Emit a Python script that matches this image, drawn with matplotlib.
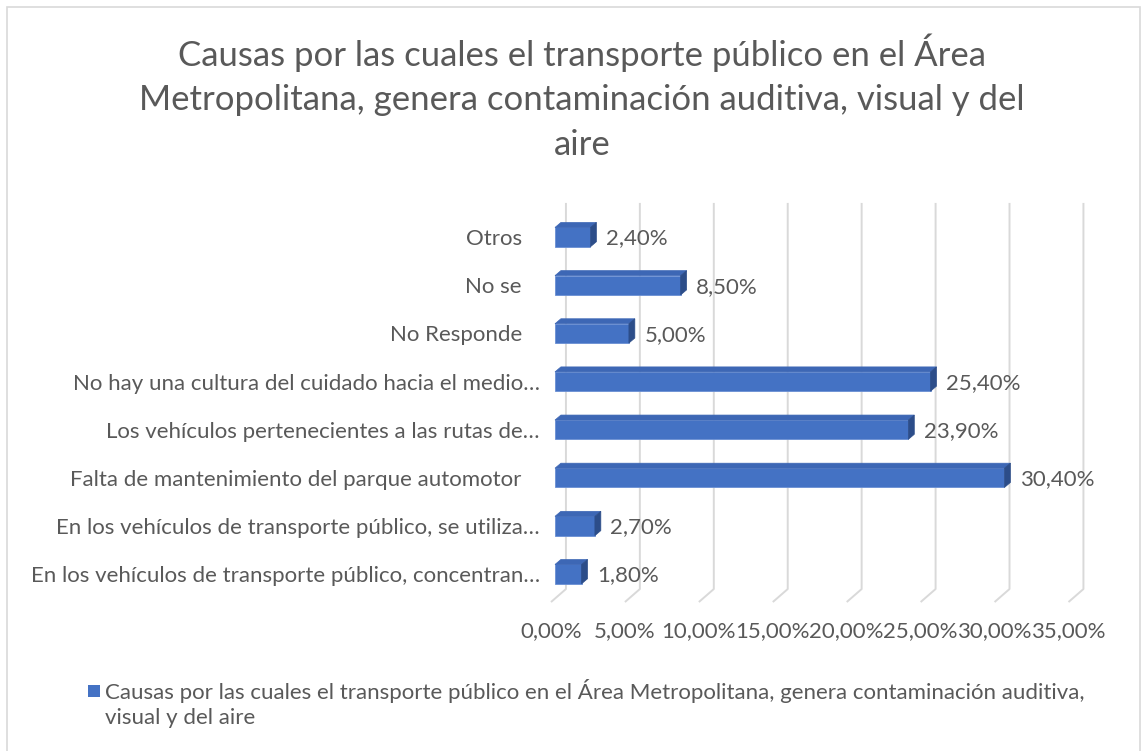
import numpy as np
import matplotlib.pyplot as plt
from matplotlib.patches import Polygon, Rectangle

plt.rcParams['font.family'] = ['Lato', 'DejaVu Sans']

W, H = 1147, 751

titulo = ("Causas por las cuales el transporte público en el Área\n"
          "Metropolitana, genera contaminación auditiva, visual y del\n"
          "aire")
categorias = [
    "En los vehículos de transporte público, concentran…",
    "En los vehículos de transporte público, se utiliza…",
    "Falta de mantenimiento del parque automotor",
    "Los vehículos pertenecientes a las rutas de…",
    "No hay una cultura del cuidado hacia el medio…",
    "No Responde",
    "No se",
    "Otros",
]
porcentajes = [1.8, 2.7, 30.4, 23.9, 25.4, 5.0, 8.5, 2.4]
ticks = [0, 5, 10, 15, 20, 25, 30, 35]
tick_labels = ["0,00%", "5,00%", "10,00%", "15,00%", "20,00%", "25,00%", "30,00%", "35,00%"]
serie = ("Causas por las cuales el transporte público en el Área Metropolitana, "
         "genera contaminación auditiva,", "visual y del aire")

gris = '#595959'
azul = '#4472C4'
azul_sup = '#3D67B5'
azul_lado = '#2C4D89'
rejilla = '#D9D9D9'
fs = 16


def fx(x):
    return x / W


def fy(y):
    return 1 - y / H


fig = plt.figure(figsize=(W / 100, H / 100), dpi=100)
fig.patches.append(Rectangle((fx(7), fy(760)), fx(1140) - fx(7), fy(7) - fy(760),
                             transform=fig.transFigure, fill=False,
                             edgecolor=rejilla, lw=1.2))

ax = fig.add_axes([fx(551), fy(603), (35 * 14.9) / W, (603 - 201) / H])
ax.set_xlim(0, 35)
ax.set_ylim(-0.6, 7.75)
for s in ax.spines.values():
    s.set_visible(False)

# profundidad del efecto 3D (en unidades de datos)
dx, dy = 0.4, 0.104
fondo_x = 0.74
piso_x = -0.27

# rejilla en la pared del fondo y su quiebre en el piso
for v in ticks:
    ax.plot([v + fondo_x, v + fondo_x, v + piso_x], [7.71, -0.31, -0.58],
            color=rejilla, lw=1.4, zorder=1, clip_on=False, solid_capstyle='butt')

y = np.arange(len(categorias))
h = 0.4
ax.barh(y, porcentajes, height=h, color=azul, edgecolor='#6A8FD3', lw=0.6, zorder=3)
for yi, v in zip(y, porcentajes):
    arriba = yi + h / 2
    abajo = yi - h / 2
    ax.add_patch(Polygon([(0, arriba), (v, arriba), (v + dx, arriba + dy), (dx, arriba + dy)],
                         closed=True, facecolor=azul_sup, edgecolor=azul_sup, lw=0.5,
                         zorder=3, clip_on=False))
    ax.add_patch(Polygon([(v, abajo), (v, arriba), (v + dx, arriba + dy), (v + dx, abajo + dy)],
                         closed=True, facecolor=azul_lado, edgecolor=azul_lado, lw=0.5,
                         zorder=3, clip_on=False))
    ax.text(v + 1.05, yi - 0.03, f"{v:.2f}%".replace('.', ','), ha='left', va='center',
            fontsize=fs, color=gris, clip_on=False)

ax.set_yticks(y, categorias)
ax.set_xticks(np.array(ticks) + piso_x, tick_labels)
ax.tick_params(axis='y', length=0, pad=8, labelsize=fs, labelcolor=gris)
ax.tick_params(axis='x', length=0, pad=13, labelsize=fs, labelcolor=gris)
# las etiquetas completas quedan más separadas que las recortadas
for t, c in zip(ax.yaxis.get_major_ticks(), categorias):
    if not c.endswith('…'):
        t.set_pad(21)

fig.text(fx(582), fy(97), titulo, ha='center', va='center', fontsize=25,
         color=gris, linespacing=1.49)

# leyenda
fig.patches.append(Rectangle((fx(88), fy(697)), fx(12), fx(12) * W / H,
                             transform=fig.transFigure, facecolor=azul, edgecolor='none'))
fig.text(fx(105), fy(691), serie[0], ha='left', va='center', fontsize=fs, color=gris)
fig.text(fx(105), fy(718), serie[1], ha='left', va='center', fontsize=fs, color=gris)

fig.savefig('out.png', dpi=100)
